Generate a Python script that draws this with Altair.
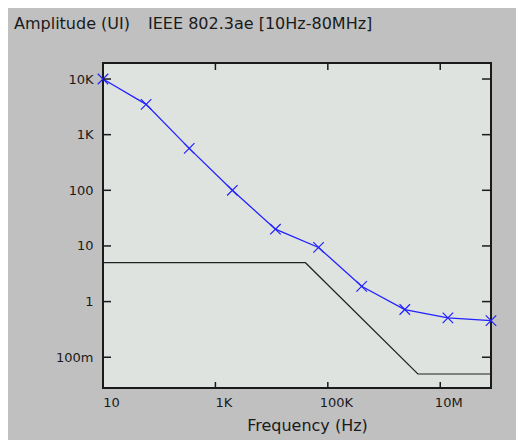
import altair as alt
import pandas as pd

# Measured jitter tolerance (blue, with markers)
freq = [10, 58.5, 342, 2000, 11700, 68400, 400000, 2340000, 13700000, 80000000]
amp = [10000, 3500, 567, 100, 20, 9.4, 1.88, 0.72, 0.51, 0.455]

# IEEE 802.3ae mask (black)
mask_freq = [10, 40000, 4000000, 80000000]
mask_amp = [5, 5, 0.05, 0.05]

# Axis ticks and labels
x_ticks = [10, 1000, 100000, 10000000]
x_tick_labels = ["10", "1K", "100K", "10M"]
y_ticks = [0.1, 1, 10, 100, 1000, 10000]
y_tick_labels = ["100m", "1", "10", "100", "1K", "10K"]

title_left = "Amplitude (UI)"
title_right = "IEEE 802.3ae [10Hz-80MHz]"
x_title = "Frequency (Hz)"

W, H = 388, 325
FONT = "DejaVu Sans"
TXT = "#1a1a1a"
BG = "#c0c0c0"


def label_expr(values, labels):
    expr = "''"
    for v, l in zip(values, labels):
        expr = f"abs(log(datum.value)-log({v}))<0.01 ? '{l}' : ({expr})"
    return expr


xscale = alt.Scale(type="log", domain=[10, 80000000])
yscale = alt.Scale(type="log", domain=[0.028, 19400])

x_axis = alt.Axis(values=x_ticks, labelExpr=label_expr(x_ticks, x_tick_labels),
                  ticks=False, domain=False, grid=False, labelFont=FONT,
                  labelFontSize=13, labelColor=TXT, labelPadding=8, labelOffset=8,
                  labelFlush=False, labelOverlap=False,
                  title=x_title, titleFont=FONT, titleFontSize=16,
                  titleFontWeight="normal", titleColor=TXT, titleX=204, titleY=42,
                  titleAlign="center", titleBaseline="alphabetic")
y_axis = alt.Axis(values=y_ticks, labelExpr=label_expr(y_ticks, y_tick_labels),
                  ticks=False, domain=False, grid=False, labelFont=FONT,
                  labelFontSize=13, labelColor=TXT, labelPadding=10,
                  labelFlush=False, labelOverlap=False, title=None)

X = alt.X("freq:Q", scale=xscale, axis=x_axis)
Y = alt.Y("amp:Q", scale=yscale, axis=y_axis)

meas = pd.DataFrame({"freq": freq, "amp": amp})
mask = pd.DataFrame({"freq": mask_freq, "amp": mask_amp})
xt = pd.DataFrame({"freq": x_ticks})
yt = pd.DataFrame({"amp": y_ticks})

blue = "#2222ff"
tick_col = "#1a1a1a"

mask_line = alt.Chart(mask).mark_line(color="#222222", strokeWidth=1.2, clip=False).encode(x=X, y=Y)
meas_line = alt.Chart(meas).mark_line(color=blue, strokeWidth=1.3, clip=False).encode(x=X, y=Y)
meas_pts = alt.Chart(meas).mark_point(
    shape="M-1,-1L1,1M-1,1L1,-1", size=110, filled=False, color=blue,
    strokeWidth=1.2, opacity=1, clip=False).encode(x=X, y=Y)

xt_bottom = alt.Chart(xt).mark_rule(color=tick_col, strokeWidth=1.5).encode(
    x=X, y=alt.value(H), y2=alt.value(H - 6))
xt_top = alt.Chart(xt).mark_rule(color=tick_col, strokeWidth=1.5).encode(
    x=X, y=alt.value(0), y2=alt.value(7))
yt_left = alt.Chart(yt).mark_rule(color=tick_col, strokeWidth=1.5).encode(
    y=Y, x=alt.value(0), x2=alt.value(8))
yt_right = alt.Chart(yt).mark_rule(color=tick_col, strokeWidth=1.5).encode(
    y=Y, x=alt.value(W), x2=alt.value(W - 9))

t1 = alt.Chart(pd.DataFrame({"t": [title_left]})).mark_text(
    align="left", baseline="alphabetic", font=FONT, fontSize=16, color=TXT).encode(
    text="t:N", x=alt.value(-89), y=alt.value(-34))
t2 = alt.Chart(pd.DataFrame({"t": [title_right]})).mark_text(
    align="left", baseline="alphabetic", font=FONT, fontSize=16, color=TXT).encode(
    text="t:N", x=alt.value(45), y=alt.value(-34))

chart = alt.layer(mask_line, meas_line, meas_pts, xt_bottom, xt_top, yt_left, yt_right, t1, t2).properties(
    width=W, height=H,
    padding={"left": 95, "top": 55, "right": 25, "bottom": 52},
    autosize=alt.AutoSizeParams(type="none"),
).configure(background=BG).configure_view(
    fill="#dfe3e0", stroke="#1a1a1a", strokeWidth=2)

chart.save("out.html", embed_options={"renderer": "svg", "actions": False})
